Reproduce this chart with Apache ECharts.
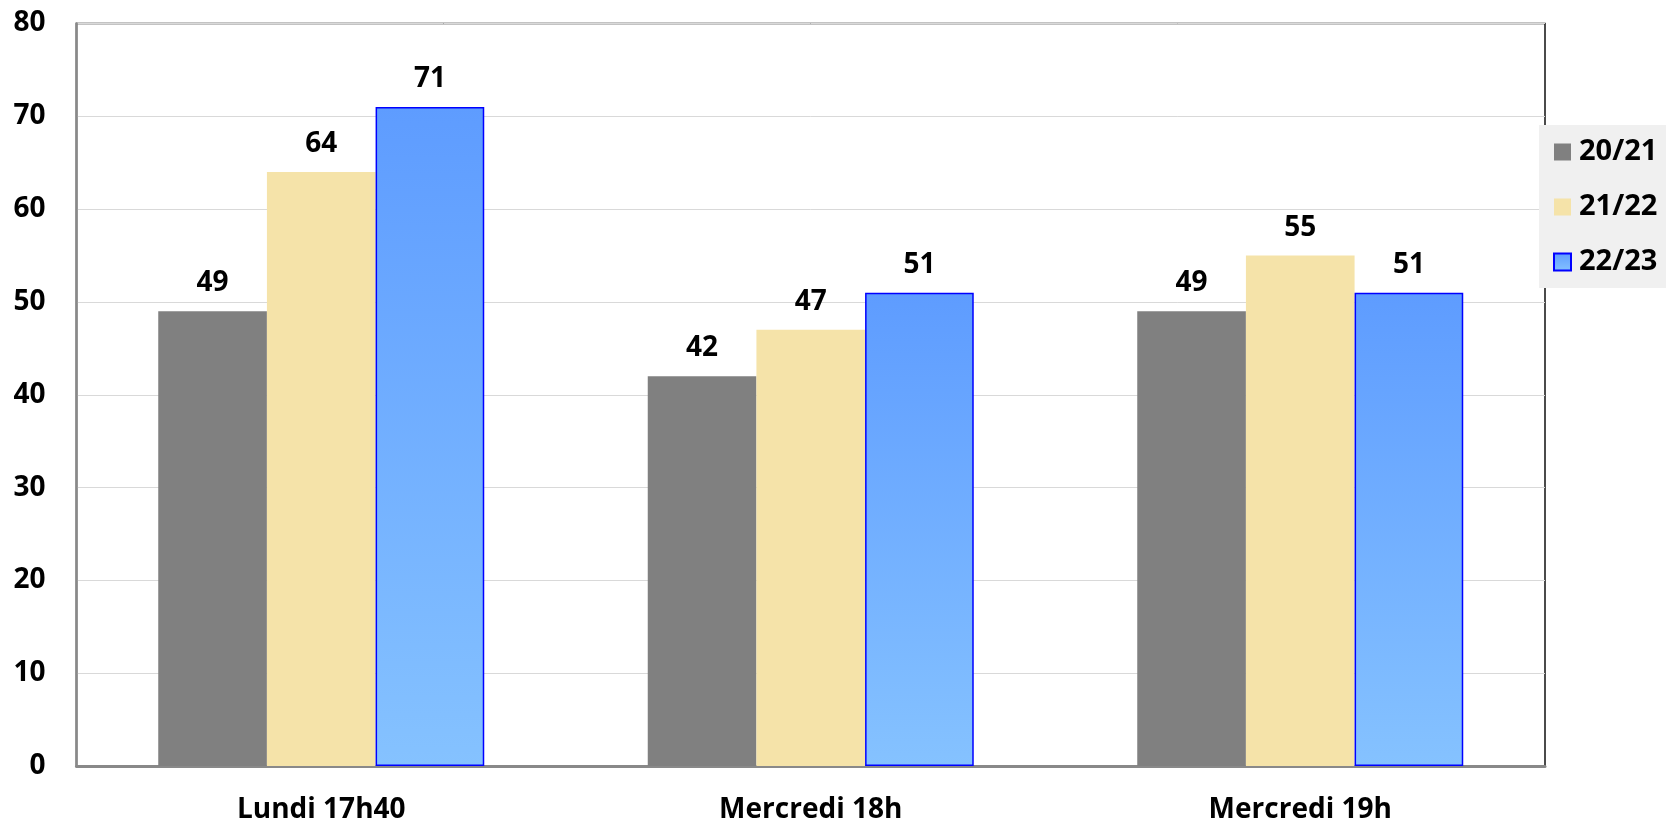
<!DOCTYPE html>
<html>
<head>
<meta charset="utf-8">
<script src="https://cdn.jsdelivr.net/npm/echarts@6/dist/echarts.min.js"></script>
<style>
html,body{margin:0;padding:0;background:#fff;}
#chart{width:1666px;height:824px;}
</style>
</head>
<body>
<div id="chart"></div>
<script>
const categories = ['Lundi 17h40', 'Mercredi 18h', 'Mercredi 19h'];
const seriesNames = ['20/21', '21/22', '22/23'];
const values2021 = [49, 42, 49];
const values2122 = [64, 47, 55];
const values2223 = [71, 51, 51];
const yTicks = [0, 10, 20, 30, 40, 50, 60, 70, 80];

const FONT = '"Open Sans", sans-serif';
const chart = echarts.init(document.getElementById('chart'));

const labelStyle = {
  show: true, position: 'top', distance: 14,
  fontFamily: FONT, fontWeight: 'bold', fontSize: 28, color: '#000'
};

chart.setOption({
  animation: false,
  backgroundColor: '#fff',
  grid: {
    left: 76.5, right: 121, top: 23.5, bottom: 56,
    show: true, borderColor: '#111', borderWidth: 1.5, backgroundColor: 'transparent'
  },
  legend: {
    orient: 'vertical',
    left: 1539, top: 125,
    padding: [12, 20, 11, 14],
    backgroundColor: '#f0f0f0',
    itemWidth: 17, itemHeight: 17, itemGap: 25,
    icon: 'rect',
    data: seriesNames,
    textStyle: {
      fontFamily: FONT, fontWeight: 'bold', fontSize: 29, color: '#000',
      lineHeight: 30, padding: [0, 0, 0, 3]
    }
  },
  xAxis: {
    type: 'category',
    data: categories,
    axisLine: { show: true, lineStyle: { color: '#898989', width: 3 } },
    axisTick: { show: false },
    axisLabel: { fontFamily: FONT, fontWeight: 'bold', fontSize: 28, color: '#000', margin: 30 }
  },
  yAxis: {
    type: 'value',
    min: yTicks[0], max: yTicks[yTicks.length - 1], interval: yTicks[1] - yTicks[0],
    axisLine: { show: true, lineStyle: { color: '#898989', width: 2.5 } },
    axisTick: { show: false },
    splitLine: { lineStyle: { color: '#d9d9d9', width: 1 } },
    axisLabel: { fontFamily: FONT, fontWeight: 'bold', fontSize: 28, color: '#000', margin: 31 }
  },
  series: [
    {
      name: seriesNames[0], type: 'bar', data: values2021,
      barGap: '0%', barCategoryGap: '33.4%',
      itemStyle: { color: '#808080' },
      label: labelStyle
    },
    {
      name: seriesNames[1], type: 'bar', data: values2122,
      barGap: '0%', barCategoryGap: '33.4%',
      itemStyle: { color: '#f5e3a9' },
      label: labelStyle
    },
    {
      name: seriesNames[2], type: 'bar', data: values2223,
      barGap: '0%', barCategoryGap: '33.4%',
      itemStyle: {
        color: new echarts.graphic.LinearGradient(0, 0, 0, 1, [
          { offset: 0, color: '#5e9cff' },
          { offset: 1, color: '#85c2ff' }
        ]),
        borderColor: '#0000ff', borderWidth: 1.5
      },
      label: labelStyle
    }
  ]
});
</script>
</body>
</html>
